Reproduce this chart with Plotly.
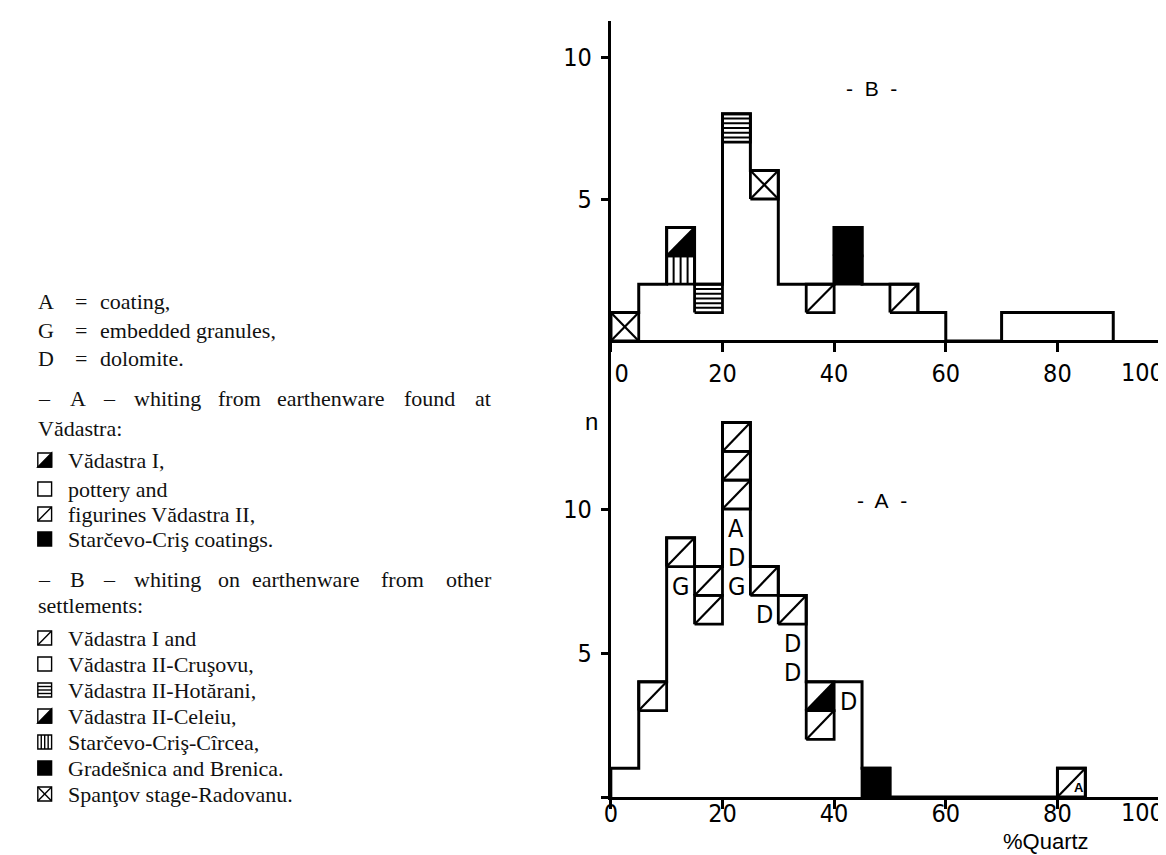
import plotly.graph_objects as go

W, H = 1166, 855

# ---------------- data ----------------
x_ticks = [0, 20, 40, 60, 80, 100]
NB = "\u00a0"
x_ticktext_b = [NB * 3 + "0", "20", "40", "60", "80", ""]
x_ticktext_a = ["0", "20", "40", "60", "80", ""]
x_last_tick = 100
x_last_label = "100"
y_ticks_b = [5, 10]
y_ticktext_b = ["5", "10"]
y_ticks_a = [0, 5, 10]
y_ticktext_a = ["", "5", "10"]

# Panel B (whiting on earthenware from other settlements)
# codes: D = diagonal, X = crossed, S = horizontal stripes, V = vertical stripes,
#        H = half black, B = black
b_lo = [0, 5, 10, 15, 20, 25, 30, 35, 40, 45, 50, 55, 70]
b_hi = [5, 10, 15, 20, 25, 30, 35, 40, 45, 50, 55, 60, 90]
b_plain = [0, 2, 2, 1, 7, 5, 2, 1, 2, 2, 1, 1, 1]
b_marked = [["X"], [], ["V", "H"], ["S"], ["S"], ["X"], [], ["D"], ["B", "B"], [], ["D"], [], []]

# Panel A (whiting from earthenware found at Vadastra)
a_lo = [0, 5, 10, 15, 20, 25, 30, 35, 40, 45, 80]
a_hi = [5, 10, 15, 20, 25, 30, 35, 40, 45, 50, 85]
a_plain = [1, 3, 8, 6, 10, 7, 6, 2, 4, 0, 0]
a_marked = [[], ["D"], ["D"], ["D", "D"], ["D", "D", "D"], ["D"], ["D"], ["D", "H"], [], ["B"], ["D"]]

# letters written inside the white part of panel A (bin start, row counted from 1, letter)
a_letter_bin = [10, 20, 20, 20, 25, 30, 30, 40]
a_letter_row = [8, 10, 9, 8, 7, 6, 5, 4]
a_letter = ["G", "A", "D", "G", "D", "D", "D", "D"]
a_small_bin = [80]
a_small_row = [1]
a_small_letter = ["A"]

# legend texts
legend_key_letters = ["A", "G", "D"]
legend_key_texts = ["coating,", "embedded granules,", "dolomite."]
legend_a_words = ["\u2013", "A", "\u2013", "whiting", "from", "earthenware", "found", "at"]
legend_a_cont = "V\u0103dastra:"
legend_a_codes = ["H", "O", "D", "B"]
legend_a_texts = ["V\u0103dastra I,", "pottery and", "figurines V\u0103dastra II,", "Star\u010devo-Cri\u015f coatings."]
legend_b_words = ["\u2013", "B", "\u2013", "whiting", "on", "earthenware", "from", "other"]
legend_b_cont = "settlements:"
legend_b_codes = ["D", "O", "S", "H", "V", "B", "X"]
legend_b_texts = ["V\u0103dastra I and", "V\u0103dastra II-Cru\u015fovu,", "V\u0103dastra II-Hot\u0103rani,",
                  "V\u0103dastra II-Celeiu,", "Star\u010devo-Cri\u015f-C\u00eercea,", "Grade\u0161nica and Brenica.",
                  "Span\u0163ov stage-Radovanu."]

# ---------------- layout constants (pixels) ----------------
X0_PX, X_PER = 594.0, 5.67
B_ZERO, B_PER = 333.0, 28.4
A_ZERO, A_PER = 789.0, 28.8
SPLIT, TOP = 395.0, 13.0
B_LABEL_Y, A_LABEL_Y = 365.0, 804.0

x_max = (W - X0_PX) / X_PER
b_range = [-(SPLIT - B_ZERO) / B_PER, (B_ZERO - TOP) / B_PER]
a_range = [0, (A_ZERO - SPLIT) / A_PER]

H_FRACS = [1 / 6, 2 / 6, 3 / 6, 4 / 6, 5 / 6]
V_FRACS = [0.25, 0.5, 0.75]

TICKFONT = dict(family="Liberation Sans Narrow, DejaVu Sans Condensed, sans-serif", size=25, color="black")
SERIF = "Liberation Serif, DejaVu Serif, serif"


def panel_traces(lo, hi, plain, marked, xa, ya):
    bx, by, lx, ly, sx, sy, cx, cy = [], [], [], [], [], [], [], []
    for l, h, p, cells in zip(lo, hi, plain, marked):
        for k, c in enumerate(cells):
            y0 = p + k
            y1 = y0 + 1
            cx += [l, h, h, l, l, None]
            cy += [y0, y0, y1, y1, y0, None]
            if c == "B":
                bx += [l, h, h, l, l, None]
                by += [y0, y0, y1, y1, y0, None]
            elif c == "H":
                bx += [l, h, h, l, None]
                by += [y0, y0, y1, y0, None]
                lx += [l, h, None]
                ly += [y0, y1, None]
            elif c == "D":
                lx += [l, h, None]
                ly += [y0, y1, None]
            elif c == "X":
                lx += [l, h, None, l, h, None]
                ly += [y0, y1, None, y1, y0, None]
            elif c == "S":
                for f in H_FRACS:
                    sx += [l, h, None]
                    sy += [y0 + f, y0 + f, None]
            elif c == "V":
                for f in V_FRACS:
                    xv = l + f * (h - l)
                    sx += [xv, xv, None]
                    sy += [y0, y1, None]
    # outline of the histogram
    ox, oy = [lo[0]], [0]
    prev = None
    for l, h, p, cells in zip(lo, hi, plain, marked):
        t = p + len(cells)
        if prev is not None and l > prev:
            ox += [prev, l]
            oy += [0, 0]
        ox += [l, h]
        oy += [t, t]
        prev = h
    ox += [prev]
    oy += [0]
    common = dict(xaxis=xa, yaxis=ya, mode="lines", hoverinfo="skip", showlegend=False)
    return [
        go.Scatter(x=bx, y=by, fill="toself", fillcolor="black", line=dict(color="black", width=1), **common),
        go.Scatter(x=sx, y=sy, line=dict(color="black", width=2.0), **common),
        go.Scatter(x=lx, y=ly, line=dict(color="black", width=2.2), **common),
        go.Scatter(x=cx, y=cy, line=dict(color="black", width=2.8), **common),
        go.Scatter(x=ox, y=oy, line=dict(color="black", width=3.0), **common),
    ]


fig = go.Figure()
for tr in panel_traces(b_lo, b_hi, b_plain, b_marked, "x", "y"):
    fig.add_trace(tr)
for tr in panel_traces(a_lo, a_hi, a_plain, a_marked, "x2", "y2"):
    fig.add_trace(tr)

xdom = [X0_PX / W, 1.0]
axis_line = dict(showgrid=False, zeroline=False, showline=True, linecolor="black", linewidth=3,
                 ticks="outside", tickcolor="black", tickwidth=2.5, tickfont=TICKFONT, fixedrange=True)

fig.update_layout(
    width=W, height=H, margin=dict(l=0, r=0, t=0, b=0),
    paper_bgcolor="white", plot_bgcolor="white",
    xaxis=dict(domain=xdom, range=[0, x_max], anchor="free", position=1 - B_ZERO / H,
               tickvals=x_ticks, ticktext=x_ticktext_b, ticklen=9, ticklabelstandoff=0, **axis_line),
    yaxis=dict(domain=[1 - SPLIT / H, 1 - TOP / H], range=b_range, anchor="x",
               tickvals=y_ticks_b, ticktext=y_ticktext_b, ticklen=7, ticklabelstandoff=4, **axis_line),
    xaxis2=dict(domain=xdom, range=[0, x_max], anchor="y2",
                tickvals=x_ticks, ticktext=x_ticktext_a, ticklen=9, ticklabelstandoff=-17, **axis_line),
    yaxis2=dict(domain=[1 - A_ZERO / H, 1 - SPLIT / H], range=a_range, anchor="x2",
                tickvals=y_ticks_a, ticktext=y_ticktext_a, ticklen=7, ticklabelstandoff=4, **axis_line),
)

ann = []
LETTERFONT = dict(family="Liberation Sans Narrow, DejaVu Sans Condensed, sans-serif", size=25, color="black")
for xb, r, t in zip(a_letter_bin, a_letter_row, a_letter):
    ann.append(dict(x=xb + 2.5, y=r - 0.5, xref="x2", yref="y2", text=t, showarrow=False,
                    font=LETTERFONT, yshift=-5))
for xb, r, t in zip(a_small_bin, a_small_row, a_small_letter):
    ann.append(dict(x=xb + 2.5, y=r - 0.5, xref="x2", yref="y2", text="<b>" + t + "</b>", showarrow=False,
                    font=dict(family="Liberation Sans, sans-serif", size=13, color="black"), xshift=8, yshift=-5))
# the last x tick label is right-aligned on its tick (page edge), as in the original
for xr, ly in (("x", B_LABEL_Y), ("x2", A_LABEL_Y)):
    ann.append(dict(x=x_last_tick, xref=xr, y=1 - ly / H, yref="paper", text=x_last_label, showarrow=False,
                    xanchor="right", yanchor="middle", font=TICKFONT, xshift=-3))
ann.append(dict(x=46.7, y=8.9, xref="x", yref="y", text="-\u00a0 B\u00a0 -", showarrow=False,
                font=dict(family="Liberation Sans, sans-serif", size=21, color="black")))
ann.append(dict(x=48.5, y=10.3, xref="x2", yref="y2", text="-\u00a0 A\u00a0 -", showarrow=False,
                font=dict(family="Liberation Sans, sans-serif", size=21, color="black")))
ann.append(dict(x=574 / W, y=1 - 413 / H, xref="paper", yref="paper", text="n", showarrow=False,
                font=dict(family="Liberation Sans, sans-serif", size=24, color="black")))
ann.append(dict(x=1082 / W, y=1 - 848 / H, xref="paper", yref="paper", text="%Quartz", showarrow=False,
                font=dict(family="Liberation Sans, sans-serif", size=22, color="black")))

# ---------------- legend (left text block) ----------------
TXT = dict(family=SERIF, size=22, color="#111111")
row_key = [294, 322, 350]
row_a_head = [391, 420]
row_a = [452, 481, 506, 531]
row_b_head = [571, 597]
row_b = [630, 656, 682, 708, 734, 760, 786]
head_a_x = [12, 45, 78, 110, 195, 255, 384, 456]
head_b_x = [12, 45, 78, 110, 195, 230, 361, 427]


def ptext(x, y, s):
    return dict(x=(x - 2) / W, y=1 - y / H, xref="paper", yref="paper", text=s, showarrow=False,
                xanchor="left", yanchor="middle", font=TXT)


for y, l, t in zip(row_key, legend_key_letters, legend_key_texts):
    ann.append(ptext(12, y, l))
    ann.append(ptext(50, y, "="))
    ann.append(ptext(75, y, t))
for xw, w in zip(head_a_x, legend_a_words):
    ann.append(ptext(xw, row_a_head[0], w))
ann.append(ptext(12, row_a_head[1], legend_a_cont))
for xw, w in zip(head_b_x, legend_b_words):
    ann.append(ptext(xw, row_b_head[0], w))
ann.append(ptext(12, row_b_head[1], legend_b_cont))

shapes = []


def px(x):
    return x / W


def py(y):
    return 1 - y / H


def icon(code, cy):
    l, r = 12.0, 26.0
    t, b = cy - 7.0, cy + 7.0
    ln = dict(color="black", width=1.4)
    out = []
    if code == "B":
        out.append(dict(type="rect", xref="paper", yref="paper", x0=px(l), x1=px(r), y0=py(b), y1=py(t),
                        fillcolor="black", line=ln))
        return out
    out.append(dict(type="rect", xref="paper", yref="paper", x0=px(l), x1=px(r), y0=py(b), y1=py(t),
                    fillcolor="white", line=ln))
    if code == "H":
        path = "M %f,%f L %f,%f L %f,%f Z" % (px(l), py(b), px(r), py(b), px(r), py(t))
        out.append(dict(type="path", xref="paper", yref="paper", path=path, fillcolor="black", line=ln))
    if code in ("D", "X"):
        out.append(dict(type="line", xref="paper", yref="paper", x0=px(l), y0=py(b), x1=px(r), y1=py(t), line=ln))
    if code == "X":
        out.append(dict(type="line", xref="paper", yref="paper", x0=px(l), y0=py(t), x1=px(r), y1=py(b), line=ln))
    if code == "S":
        for f in [0.25, 0.5, 0.75]:
            yy = t + f * (b - t)
            out.append(dict(type="line", xref="paper", yref="paper", x0=px(l), y0=py(yy), x1=px(r), y1=py(yy), line=ln))
    if code == "V":
        for f in [0.25, 0.5, 0.75]:
            xx = l + f * (r - l)
            out.append(dict(type="line", xref="paper", yref="paper", x0=px(xx), y0=py(t), x1=px(xx), y1=py(b), line=ln))
    return out


for y, c, t in zip(row_a, legend_a_codes, legend_a_texts):
    shapes += icon(c, y)
    ann.append(ptext(43, y, t))
for y, c, t in zip(row_b, legend_b_codes, legend_b_texts):
    shapes += icon(c, y)
    ann.append(ptext(43, y, t))

fig.update_layout(annotations=ann, shapes=shapes)
fig.write_html("out.html")
